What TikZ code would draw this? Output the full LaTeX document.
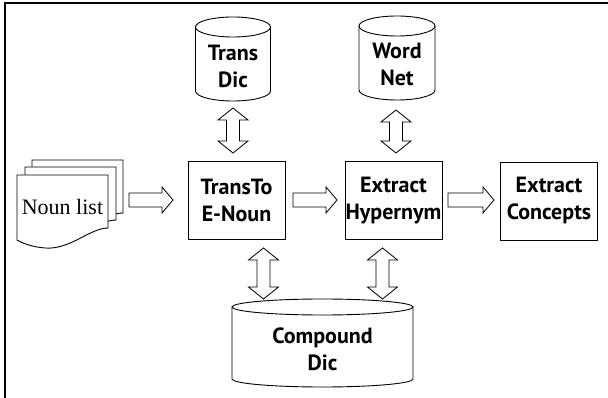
\documentclass[tikz,border=0pt]{standalone}
\usepackage{fontspec}
\setmainfont{PT Sans}
\newfontfamily\serifnl{Liberation Serif}
\newcommand\labfont{\bfseries\fontsize{22}{27}\selectfont}
\newcommand\harr[3]{\draw[blk] (#1,#3-7) -- (#2-11,#3-7) -- (#2-11,#3-13) -- (#2,#3) -- (#2-11,#3+13) -- (#2-11,#3+7) -- (#1,#3+7) -- cycle;}
\newcommand\vdarr[3]{\draw[blk] (#1,#2) -- (#1+15,#2+12) -- (#1+6.5,#2+12) -- (#1+6.5,#3-12) -- (#1+15,#3-12) -- (#1,#3) -- (#1-15,#3-12) -- (#1-6.5,#3-12) -- (#1-6.5,#2+12) -- (#1-15,#2+12) -- cycle;}
\newcommand\cyl[5]{\draw[cylst] (#1-#4,#2+#5) -- (#1-#4,#3-#5) arc[start angle=180,end angle=0,x radius=#4,y radius=#5] -- (#1+#4,#2+#5);
 \draw[cylst] (#1,#2+#5) ellipse[x radius=#4, y radius=#5];}
\newcommand\docpage[2]{\draw[pg] (17+#1,175+#2) -- (108+#1,175+#2) -- (108+#1,228+#2) .. controls (90+#1,228+#2) and (70+#1,250+#2) .. (45+#1,248+#2) .. controls (32+#1,247+#2) and (22+#1,243+#2) .. (17+#1,240+#2) -- cycle;}
\begin{document}
\begin{tikzpicture}[x=1pt,y=-1pt,
  box/.style={draw, line width=0.9pt, minimum width=97pt, minimum height=78pt, inner sep=0pt, align=center, font=\labfont},
  lbl/.style={align=center, font=\labfont, inner sep=0pt},
  blk/.style={draw, line width=0.8pt, fill=white},
  cylst/.style={draw, line width=0.9pt},
  pg/.style={draw, line width=0.9pt, fill=white},
  frame/.style={line width=1.2pt}]
\useasboundingbox (0,0) rectangle (608,398);
% frame
\draw[frame] (608,3) -- (5,3) -- (5,398);
% noun list
\docpage{15}{-15}
\docpage{8}{-8}
\docpage{0}{0}
\node[inner sep=0pt, font=\serifnl\fontsize{22}{26}\selectfont] (nl) at (62.5,207) {Noun list};
% boxes
\node[box] (tr) at (236.5,200) {TransTo\\E-Noun};
\node[box] (eh) at (393.5,200.5) {Extract\\Hypernym};
\node[box] (ec) at (549,201) {Extract\\Concepts};
% cylinders
\cyl{233}{17}{101}{37.5}{10}
\node[lbl] (td) at (233,66) {Trans\\Dic};
\cyl{397}{16}{100}{38}{10}
\node[lbl] (wn) at (397,64) {Word\\Net};
\cyl{322.5}{299}{387}{90.5}{8}
\node[lbl] (cd) at (322.5,349) {Compound\\Dic};
% arrows
\harr{129}{173}{200}
\harr{293}{337}{200}
\harr{448}{494}{200}
\vdarr{233}{108}{153}
\vdarr{396}{110}{153}
\vdarr{263.5}{248}{299}
\vdarr{382.5}{248}{299}
\end{tikzpicture}
\end{document}
